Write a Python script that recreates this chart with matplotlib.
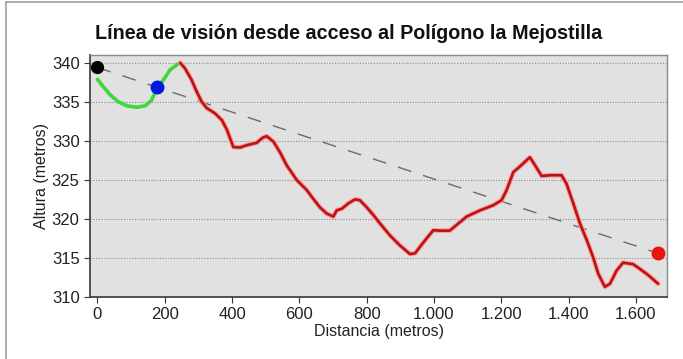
import matplotlib
matplotlib.use("Agg")
import matplotlib.pyplot as plt
from matplotlib.lines import Line2D
from matplotlib.ticker import FuncFormatter

# Terrain profile: visible stretch (green) and hidden stretch (red)
dist_visible = [0, 18, 38, 62, 87, 117, 142, 161, 178, 196, 216, 241, 246]
alt_visible = [337.9, 336.9, 335.9, 335.0, 334.5, 334.3, 334.5, 335.2,
               336.85, 337.8, 339.1, 339.9, 340.0]

dist_hidden = [246, 260, 280, 295, 310, 325, 350, 370, 385, 404, 424, 444,
               473, 491, 503, 523, 543, 562, 592, 622, 641, 661, 681, 701,
               711, 726, 746, 765, 780, 800, 820, 840, 869, 899, 929, 944,
               958, 978, 998, 1018, 1047, 1072, 1097, 1137, 1176, 1201, 1216,
               1236, 1255, 1270, 1285, 1300, 1320, 1345, 1379, 1394, 1414,
               1434, 1454, 1473, 1488, 1508, 1523, 1543, 1562, 1592, 1612,
               1637, 1666]
alt_hidden = [340.0, 339.3, 337.8, 336.3, 335.0, 334.2, 333.5, 332.65, 331.4,
              329.2, 329.15, 329.45, 329.75, 330.4, 330.6, 329.9, 328.5,
              326.9, 325.0, 323.7, 322.6, 321.5, 320.7, 320.3, 321.1, 321.3,
              322.0, 322.5, 322.4, 321.5, 320.5, 319.4, 317.9, 316.6, 315.5,
              315.6, 316.4, 317.5, 318.55, 318.5, 318.5, 319.4, 320.3, 321.1,
              321.75, 322.4, 323.7, 326.0, 326.7, 327.3, 327.9, 326.9, 325.5,
              325.6, 325.6, 324.5, 322.0, 319.4, 317.3, 315.1, 313.0, 311.3,
              311.7, 313.4, 314.4, 314.2, 313.6, 312.8, 311.7]

# Observer, first hidden point and target
observer = (0, 339.4)
break_point = (178, 336.85)
target = (1666, 315.6)

x_ticks = [0, 200, 400, 600, 800, 1000, 1200, 1400, 1600]
y_ticks = [310, 315, 320, 325, 330, 335, 340]

plt.rcParams["font.family"] = ["Liberation Sans", "DejaVu Sans"]

fig = plt.figure(figsize=(6.83, 3.59), dpi=100)
ax = fig.add_axes([0.1318, 0.1727, 0.8450, 0.6741])
ax.set_facecolor("#e1e1e1")

# Frame around the whole panel
fig.add_artist(Line2D([0.009, 1.0], [0.994, 0.994], color="#a0a0a0", lw=1.2,
                      transform=fig.transFigure))
fig.add_artist(Line2D([0.009, 0.009], [0.0, 0.994], color="#a0a0a0", lw=1.2,
                      transform=fig.transFigure))

ax.grid(axis="y", linestyle=(0, (1, 1.5)), color="#8a8a8a", lw=0.8)
ax.set_axisbelow(True)

# line of sight
ax.plot([observer[0], target[0]], [observer[1], target[1]],
        color="#6a6a6a", lw=1.0, dashes=(10, 9), zorder=2)

ax.plot(dist_visible, alt_visible, color="#3cd83c", lw=2.6, zorder=3,
        solid_capstyle="round")
ax.plot(dist_hidden, alt_hidden, color="#ff9a9a", lw=3.4, zorder=3,
        solid_capstyle="round")
ax.plot(dist_hidden, alt_hidden, color="#b81414", lw=1.9, zorder=4,
        solid_capstyle="round")

ax.plot(*observer, "o", color="black", ms=8.5, zorder=5)
ax.plot(*break_point, "o", color="#0018e0", ms=9, zorder=5)
ax.plot(*target, "o", color="#ee1111", ms=9, zorder=5)

ax.set_xlim(-22, 1693)
ax.set_ylim(310, 341)
ax.set_xticks(x_ticks)
ax.set_yticks(y_ticks)
ax.xaxis.set_major_formatter(
    FuncFormatter(lambda v, p: f"{int(v):,}".replace(",", ".")))
ax.tick_params(labelsize=12, length=4, color="#333333", labelcolor="#222222")

for side in ["left", "bottom"]:
    ax.spines[side].set_color("#444444")
    ax.spines[side].set_linewidth(1.3)
for side in ["top", "right"]:
    ax.spines[side].set_color("#8a8a8a")
    ax.spines[side].set_linewidth(1.0)

ax.set_xlabel("Distancia (metros)", fontsize=11.5, color="#222222",
              labelpad=1)
ax.set_ylabel("Altura (metros)", fontsize=11.5, color="#222222",
              labelpad=2)
fig.text(0.51, 0.908, "Línea de visión desde acceso al Polígono la Mejostilla",
         ha="center", va="center", fontsize=14.2, fontweight="bold",
         color="#111111")

fig.savefig("out.png", dpi=100)
